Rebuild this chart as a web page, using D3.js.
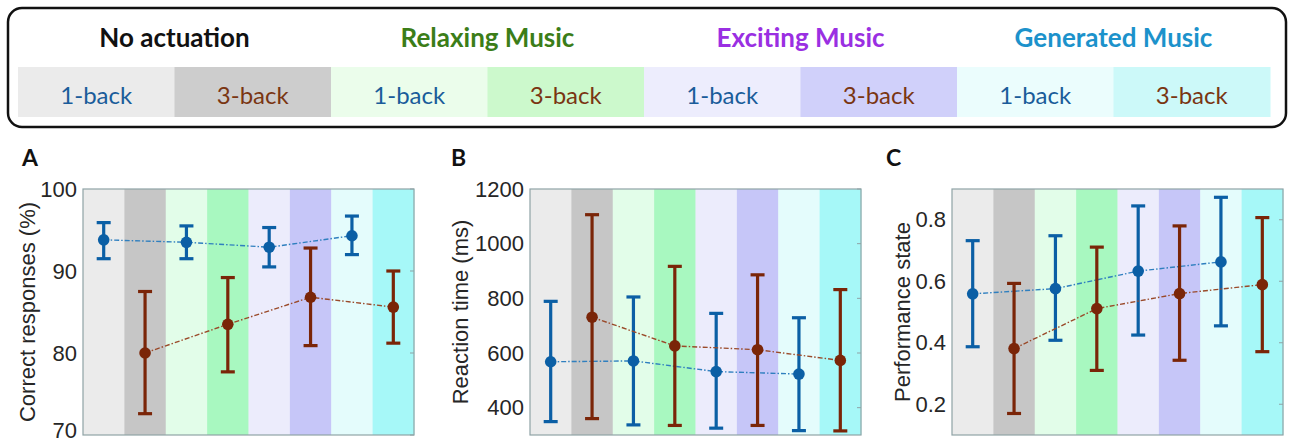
<!DOCTYPE html>
<html>
<head>
<meta charset="utf-8">
<script src="https://cdn.jsdelivr.net/npm/d3@7"></script>
<style>
  body { margin: 0; background: #fff; }
  svg { display: block; }
</style>
</head>
<body>
<svg id="fig" width="1293" height="445"></svg>
<script>
// Conditions and task loads
const groups = ["No actuation", "Relaxing Music", "Exciting Music", "Generated Music"];
const groupColors = ["#111111", "#3b7d18", "#9a2fe2", "#1c92cb"];
const loads = ["1-back", "3-back"];
const legendCellColors = ["#ebebeb", "#cdcdcd", "#ebfdeb", "#ccf9cc", "#ededfd", "#d0d0fa", "#ebfdfd", "#ccf9f9"];
const bandColors = ["#ebebeb", "#c6c6c6", "#e2fde9", "#a8f8c0", "#ececfc", "#c6c6f8", "#e4fcfc", "#a6f8f8"];

// A: correct responses (%)
const accMean1 = [93.8, 93.5, 92.9, 94.3];
const accLo1   = [91.5, 91.5, 90.5, 92.0];
const accHi1   = [95.9, 95.5, 95.3, 96.7];
const accMean3 = [80.0, 83.5, 86.8, 85.6];
const accLo3   = [72.6, 77.7, 80.9, 81.2];
const accHi3   = [87.5, 89.2, 92.8, 90.0];
const accTicks = [70, 80, 90, 100];

// B: reaction time (ms)
const rtMean1 = [568, 571, 532, 523];
const rtLo1   = [349, 337, 325, 316];
const rtHi1   = [789, 805, 745, 729];
const rtMean3 = [731, 626, 612, 573];
const rtLo3   = [360, 335, 335, 315];
const rtHi3   = [1106, 917, 886, 832];
const rtTicks = [400, 600, 800, 1000, 1200];

// C: performance state
const psMean1 = [0.559, 0.576, 0.633, 0.663];
const psLo1   = [0.387, 0.408, 0.425, 0.455];
const psHi1   = [0.732, 0.748, 0.845, 0.873];
const psMean3 = [0.381, 0.511, 0.560, 0.589];
const psLo3   = [0.170, 0.310, 0.343, 0.371];
const psHi3   = [0.593, 0.711, 0.780, 0.807];
const psTicks = [0.2, 0.4, 0.6, 0.8];

const blue = "#0b5fa5", brown = "#7a2508";
const blueLine = "#2f7fbf", brownLine = "#9a4a2a";

const svg = d3.select("#fig");

// ---- Legend panel ----
const legend = svg.append("g");
legend.append("rect")
  .attr("x", 8).attr("y", 8).attr("width", 1278).attr("height", 119)
  .attr("rx", 14).attr("ry", 14)
  .attr("fill", "#fff").attr("stroke", "#111").attr("stroke-width", 2.5);

const cellIds = d3.range(8);
const lx = d3.scaleBand().domain(cellIds).range([18, 1270]).paddingInner(0);

legend.selectAll("rect.cell").data(cellIds).join("rect")
  .attr("class", "cell")
  .attr("x", d => lx(d)).attr("y", 67)
  .attr("width", lx.bandwidth() + 0.5).attr("height", 50)
  .attr("fill", d => legendCellColors[d]);

legend.selectAll("text.cell").data(cellIds).join("text")
  .attr("class", "cell")
  .attr("x", d => lx(d) + lx.bandwidth() / 2).attr("y", 94)
  .attr("text-anchor", "middle").attr("dominant-baseline", "central")
  .attr("font-family", "Lato, 'Open Sans', sans-serif").attr("font-size", 24)
  .attr("fill", d => d % 2 === 0 ? "#1a5c9a" : "#7a3512")
  .text(d => loads[d % 2]);

legend.selectAll("text.group").data(groups).join("text")
  .attr("class", "group")
  .attr("x", (d, i) => lx(2 * i + 1)).attr("y", 37)
  .attr("text-anchor", "middle").attr("dominant-baseline", "central")
  .attr("font-family", "Lato, 'Open Sans', sans-serif").attr("font-weight", 700).attr("font-size", 26)
  .attr("fill", (d, i) => groupColors[i])
  .text(d => d);

// ---- Data panels ----
function panel(opts) {
  const { left, right, top, bottom, domain, ticks, fmt, ylabel, labelX, letter, letterX,
          m1, lo1, hi1, m3, lo3, hi3 } = opts;
  const g = svg.append("g");
  const x = d3.scaleBand().domain(cellIds).range([left, right]);
  const y = d3.scaleLinear().domain(domain).range([bottom, top]);

  g.selectAll("rect.band").data(cellIds).join("rect")
    .attr("x", d => x(d)).attr("y", top)
    .attr("width", x.bandwidth() + 0.4).attr("height", bottom - top)
    .attr("fill", d => bandColors[d]);

  // frame
  g.append("rect")
    .attr("x", left).attr("y", top).attr("width", right - left).attr("height", bottom - top)
    .attr("fill", "none").attr("stroke", "#8fa3a6").attr("stroke-width", 1.2);

  // right-side inward ticks
  g.selectAll("line.rtick").data(ticks).join("line")
    .attr("x1", right).attr("x2", right - 4)
    .attr("y1", d => y(d)).attr("y2", d => y(d))
    .attr("stroke", "#8fa3a6").attr("stroke-width", 1);

  // left axis labels
  const ax = d3.axisLeft(y).tickValues(ticks).tickFormat(fmt).tickSize(0).tickPadding(6);
  const axg = g.append("g").attr("transform", `translate(${left},0)`).call(ax);
  axg.select(".domain").remove();
  axg.selectAll("text")
    .attr("font-family", "'Liberation Sans', Arial, Helvetica, sans-serif")
    .attr("font-size", 22).attr("fill", "#262626");
  // keep a label sitting on the bottom edge inside the page
  axg.selectAll(".tick").filter(d => y(d) > 430).select("text").attr("dy", "0.1em");

  g.append("text")
    .attr("transform", `translate(${labelX},${(top + bottom) / 2}) rotate(-90)`)
    .attr("text-anchor", "middle").attr("dominant-baseline", "central")
    .attr("font-family", "'Liberation Sans', Arial, Helvetica, sans-serif")
    .attr("font-size", 22).attr("fill", "#262626")
    .text(ylabel);

  svg.append("text")
    .attr("x", letterX).attr("y", 157)
    .attr("dominant-baseline", "central")
    .attr("font-family", "Lato, 'Open Sans', sans-serif").attr("font-weight", 700).attr("font-size", 23)
    .attr("fill", "#111").text(letter);

  const series = [
    { m: m1, lo: lo1, hi: hi1, off: 0, c: blue, lc: blueLine },
    { m: m3, lo: lo3, hi: hi3, off: 1, c: brown, lc: brownLine }
  ];
  series.forEach(s => {
    const cx = i => x(2 * i + s.off) + x.bandwidth() / 2;
    const line = d3.line().x((d, i) => cx(i)).y(d => y(d));
    g.append("path").datum(s.m)
      .attr("d", line).attr("fill", "none")
      .attr("stroke", s.lc).attr("stroke-width", 1.4)
      .attr("stroke-dasharray", "5,2,1.5,2");
    const eb = g.append("g").attr("stroke", s.c).attr("stroke-width", 3.2);
    s.m.forEach((v, i) => {
      eb.append("line").attr("x1", cx(i)).attr("x2", cx(i))
        .attr("y1", y(s.lo[i])).attr("y2", y(s.hi[i]));
      [s.lo[i], s.hi[i]].forEach(e => {
        eb.append("line").attr("x1", cx(i) - 7).attr("x2", cx(i) + 7)
          .attr("y1", y(e)).attr("y2", y(e));
      });
    });
    g.selectAll(null).data(s.m).join("circle")
      .attr("cx", (d, i) => cx(i)).attr("cy", d => y(d))
      .attr("r", 5.8).attr("fill", s.c);
  });
}

panel({ left: 83, right: 414, top: 189, bottom: 435, domain: [70, 100], ticks: accTicks,
  fmt: d3.format("d"), ylabel: "Correct responses (%)", labelX: 27, letter: "A", letterX: 22,
  m1: accMean1, lo1: accLo1, hi1: accHi1, m3: accMean3, lo3: accLo3, hi3: accHi3 });

panel({ left: 530, right: 861, top: 189, bottom: 435, domain: [300, 1200], ticks: rtTicks,
  fmt: d3.format("d"), ylabel: "Reaction time (ms)", labelX: 460, letter: "B", letterX: 451,
  m1: rtMean1, lo1: rtLo1, hi1: rtHi1, m3: rtMean3, lo3: rtLo3, hi3: rtHi3 });

panel({ left: 952, right: 1283, top: 189, bottom: 435, domain: [0.1, 0.9], ticks: psTicks,
  fmt: d3.format(".1f"), ylabel: "Performance state", labelX: 902, letter: "C", letterX: 886,
  m1: psMean1, lo1: psLo1, hi1: psHi1, m3: psMean3, lo3: psLo3, hi3: psHi3 });
</script>
</body>
</html>
